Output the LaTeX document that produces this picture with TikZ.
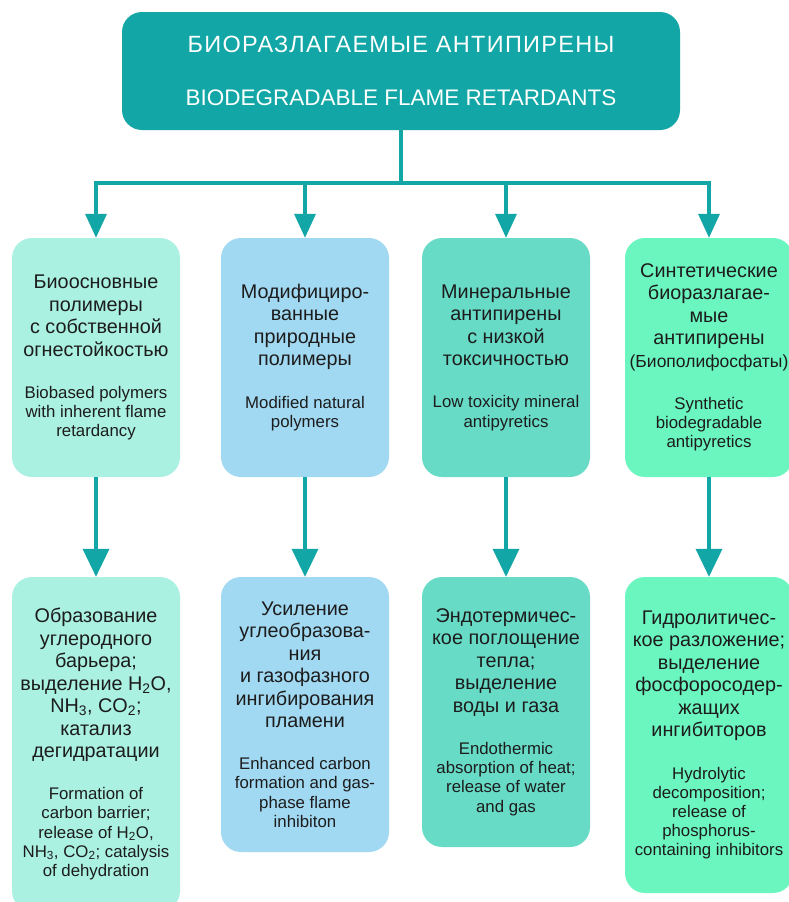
\documentclass[tikz,border=0pt]{standalone}
\usepackage{fontspec}
\setmainfont{Liberation Sans}
\usetikzlibrary{arrows.meta}
\definecolor{tealmain}{HTML}{12A6A6}
\definecolor{fillA}{HTML}{AAF1E1}
\definecolor{fillB}{HTML}{A2D9F2}
\definecolor{fillC}{HTML}{68DBC7}
\definecolor{fillD}{HTML}{6BF6C0}
\definecolor{txt}{HTML}{1C1C1C}
\newcommand\RuFont{\fontsize{19.8}{22.5}\selectfont}
\newcommand\EnFont{\fontsize{16.8}{19.2}\selectfont}
\newcommand\BoxText[2]{\makebox[0pt]{\parbox{240pt}{\centering\RuFont #1\par\vspace{23pt}\EnFont #2\par}}}
\tikzset{
  cbox/.style={rectangle, rounded corners=20pt, minimum width=168pt, inner sep=0pt, text=txt},
  topbox/.style={rectangle, rounded corners=20pt, fill=tealmain, minimum width=558pt, minimum height=118pt,
     inner sep=0pt, text=white, align=center, font=\fontsize{22.5}{53}\selectfont},
  link/.style={draw=tealmain, line width=3.5pt},
  arrA/.style={link, -{Triangle[width=21pt,length=24pt]}},
  arrB/.style={link, -{Triangle[width=26pt,length=28pt]}}
}
\begin{document}
\begin{tikzpicture}[x=1pt,y=-1pt]
\path[use as bounding box, fill=white] (0,0) rectangle (789,902);

\node[topbox] (top) at (401,71) {{\fontsize{23.5}{53}\addfontfeature{LetterSpace=5.5}\selectfont БИОРАЗЛАГАЕМЫЕ АНТИПИРЕНЫ}\\BIODEGRADABLE FLAME RETARDANTS};

\node[cbox, fill=fillA, minimum height=239pt] (b1) at (96,357.5)
  {\BoxText{Биоосновные\\полимеры\\с собственной\\огнестойкостью}{Biobased polymers\\with inherent flame\\retardancy}};
\node[cbox, fill=fillB, minimum height=239pt] (b2) at (305,357.5)
  {\BoxText{Модифициро-\\ванные\\природные\\полимеры}{Modified natural\\polymers}};
\node[cbox, fill=fillC, minimum height=239pt] (b3) at (506,357.5)
  {\BoxText{Минеральные\\антипирены\\с низкой\\токсичностью}{Low toxicity mineral\\antipyretics}};
\node[cbox, fill=fillD, minimum height=239pt] (b4) at (709,357.5)
  {\BoxText{Синтетические\\биоразлагае-\\мые\\антипирены\\{\fontsize{17.5}{20}\selectfont (Биополифосфаты)}}{Synthetic\\biodegradable\\antipyretics}};

\node[cbox, fill=fillA, minimum height=334pt] (c1) at (96,744)
  {\BoxText{Образование\\углеродного\\барьера;\\выделение H\textsubscript{2}O,\\NH\textsubscript{3}, CO\textsubscript{2};\\катализ\\дегидратации}{Formation of\\carbon barrier;\\release of H\textsubscript{2}O,\\NH\textsubscript{3}, CO\textsubscript{2}; catalysis\\of dehydration}};
\node[cbox, fill=fillB, minimum height=275pt] (c2) at (305,714.5)
  {\BoxText{Усиление\\углеобразова-\\ния\\и газофазного\\ингибирования\\пламени}{Enhanced carbon\\formation and gas-\\phase flame\\inhibiton}};
\node[cbox, fill=fillC, minimum height=270pt] (c3) at (506,712)
  {\BoxText{Эндотермичес-\\кое поглощение\\тепла;\\выделение\\воды и газа}{Endothermic\\absorption of heat;\\release of water\\and gas}};
\node[cbox, fill=fillD, minimum height=316pt] (c4) at (709,735)
  {\BoxText{Гидролитичес-\\кое разложение;\\выделение\\фосфоросодер-\\жащих\\ингибиторов}{Hydrolytic\\decomposition;\\release of\\phosphorus-\\containing inhibitors}};

\coordinate (hub) at (top.south |- 0,183);
\draw[link] (top.south) -- (hub);
\draw[arrA] (hub) -| (b1.north);
\draw[arrA] (hub) -| (b2.north);
\draw[arrA] (hub) -| (b3.north);
\draw[arrA] (hub) -| (b4.north);

\draw[arrB] (b1.south) -- (c1.north);
\draw[arrB] (b2.south) -- (c2.north);
\draw[arrB] (b3.south) -- (c3.north);
\draw[arrB] (b4.south) -- (c4.north);
\end{tikzpicture}
\end{document}
